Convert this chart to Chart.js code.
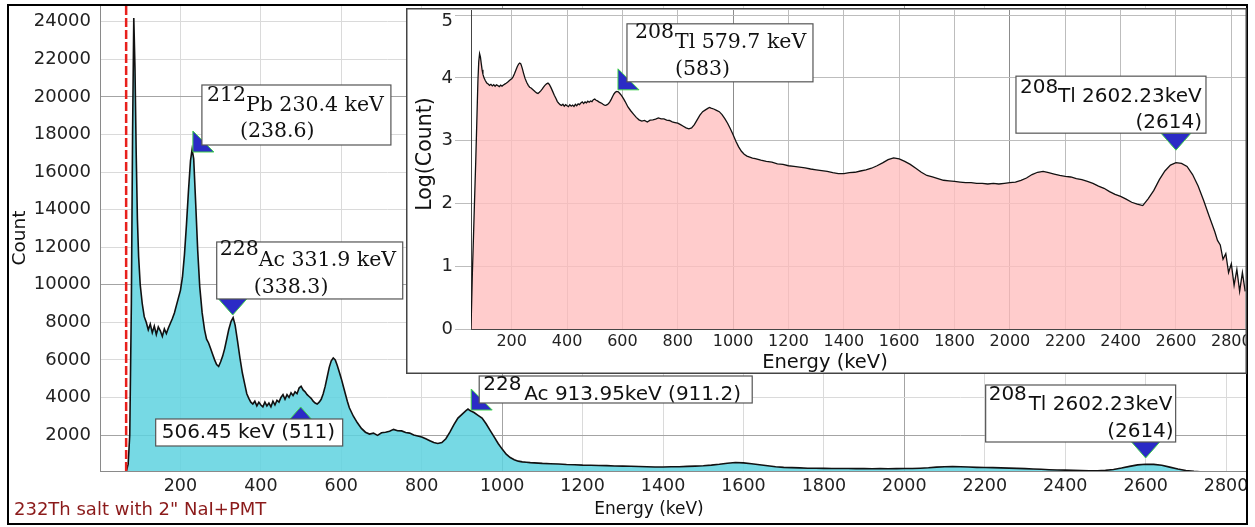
<!DOCTYPE html>
<html>
<head>
<meta charset="utf-8">
<script src="https://cdn.jsdelivr.net/npm/chart.js@4.4.1/dist/chart.umd.min.js"></script>
<style>
body { margin: 0; background: #fff; }
#wrap { position: relative; width: 1255px; height: 527px; }
#main { display: block; }
#inset { position: absolute; left: 406px; top: 8px; display: block; }
</style>
</head>
<body>
<div id="wrap">
  <canvas id="main" width="1255" height="527"></canvas>
  <canvas id="inset" width="841" height="366"></canvas>
</div>
<script>
// spectrum (keV, counts)
const energy = [53,58,62,66,70,74,78,81,84,87,90,93,96,
  100,105,110,115,120,125,130,135,140,145,150,155,160,165,170,175,180,185,190,195,
  200,205,210,215,220,225,229,233,238,243,248,254,260,265,270,275,280,285,290,295,
  300,305,310,315,320,326,331,336,342,348,354,360,365,370,375,380,385,390,395,
  400,405,410,415,420,425,430,435,440,445,450,455,460,465,470,475,480,485,490,495,
  500,505,510,515,520,525,530,535,540,545,550,555,560,565,570,575,580,585,590,595,
  600,605,610,615,620,630,640,650,660,670,680,690,700,710,720,730,740,750,760,770,780,790,
  800,810,820,830,840,850,860,870,880,890,900,910,915,920,930,940,950,960,970,980,990,
  1000,1010,1020,1030,1040,1050,1060,1070,1080,1090,1100,1120,1140,1160,1180,
  1200,1220,1240,1260,1280,1300,1320,1340,1360,1380,1400,1420,1440,1460,1480,
  1500,1520,1540,1560,1580,1600,1620,1640,1660,1680,1700,1720,1740,1760,1780,
  1800,1820,1840,1860,1880,1900,1920,1940,1960,1980,2000,2020,2040,2060,2080,
  2100,2120,2140,2160,2180,2200,2220,2240,2260,2280,2300,2320,2340,2360,2380,
  2400,2420,2440,2460,2480,2500,2520,2540,2560,2580,2600,2620,2640,2660,2680,
  2700,2720,2740,2750,2760,2770,2780,2790,2800,2810,2820,2830,2840,2850];
const counts = [1,8,30,120,450,2000,9000,18000,24200,21500,17000,13500,11500,
  10000,9000,8300,8000,7600,7900,7450,7800,7350,7750,7550,7250,7650,7400,7700,7950,8200,8500,8900,9300,
  9700,10400,11600,13200,15000,16600,17200,16700,14300,11800,9900,8500,7600,7100,6900,6600,6300,6000,5750,5650,
  5900,6200,6600,7100,7600,8050,8250,7850,7000,6100,5300,4700,4200,3950,3750,3650,3800,3550,3750,
  3600,3500,3750,3550,3700,3500,3800,3600,3850,3750,4000,4150,3900,4150,4000,4250,4100,4300,4200,4500,
  4600,4400,4300,4150,4050,3950,3800,3700,3650,3750,3900,4200,4600,5100,5600,5950,6100,6000,5700,5350,
  5000,4600,4200,3800,3450,3000,2650,2350,2150,2050,2100,1980,2120,2150,2200,2300,2230,2220,2130,2100,2000,1950,
  1900,1800,1700,1600,1550,1600,1800,2150,2550,2900,3100,3300,3380,3300,3200,3050,2900,2600,2250,1900,1550,
  1250,980,800,680,610,570,550,530,520,505,490,470,455,430,420,
  400,390,380,370,355,345,335,325,310,300,300,310,315,330,345,
  365,400,445,500,535,515,470,420,365,315,280,265,250,235,230,
  225,220,215,215,210,210,205,210,205,210,215,220,235,255,290,
  315,325,310,295,280,270,265,250,240,225,210,190,175,155,140,
  130,118,105,98,93,120,162,240,330,410,447,437,390,290,190,
  112,63,36,26,22,13,16,8,11,5,9,4,8,4];
const logCounts = counts.map(c => Math.log10(c));

const energyTicks = [200,400,600,800,1000,1200,1400,1600,1800,2000,2200,2400,2600,2800];
const countTicks = [2000,4000,6000,8000,10000,12000,14000,16000,18000,20000,22000,24000];
const logTicks = [0,1,2,3,4,5];
const cutEnergy = 65;

Chart.defaults.font.family = 'DejaVu Sans';
Chart.defaults.color = '#222';

const fonts = { serif: '20.5px "DejaVu Serif"', sans: '20px "DejaVu Sans"' };
const markShapes = {
  corner: [[0,0],[0,-21],[21,0]],
  down: [[0,0],[-15,-17],[15,-17]],
  up: [[0,0],[-15,17],[15,17]]
};

// peak labels, anchored at data coords, offsets in px
const mainNotes = [
  {e:231, v:17065, mark:'corner', font:'serif', box:[9,-67,189,60],
   text:[{t:'212',x:14,y:-56},{t:'Pb 230.4 keV',x:53,y:-46},{t:'(238.6)',x:47,y:-20}]},
  {e:330, v:8390, mark:'down', font:'serif', box:[-16,-73,186,57],
   text:[{t:'228',x:-13,y:-65},{t:'Ac 331.9 keV',x:26,y:-54},{t:'(338.3)',x:21,y:-27}]},
  {e:499, v:3492, mark:'up', font:'sans', box:[-145,12,187,27],
   text:[{t:'506.45 keV (511)',x:-139,y:26}]},
  {e:923, v:3332, mark:'corner', font:'sans', box:[8,-34,273,27],
   text:[{t:'228',x:12,y:-25},{t:'Ac 913.95keV (911.2)',x:53,y:-15}]},
  {e:2600, v:777, mark:'down', font:'sans', box:[-160,-73,190,57],
   text:[{t:'208',x:-157,y:-63},{t:'Tl 2602.23keV',x:-117,y:-53},{t:'(2614)',x:28,y:-26,a:'right'}]}
];
const insetNotes = [
  {e:584, v:3.81, mark:'corner', font:'serif', box:[9,-66,186,58],
   text:[{t:'208',x:17,y:-57},{t:'Tl 579.7 keV',x:57,y:-47},{t:'(583)',x:57,y:-20}]},
  {e:2600, v:2.85, mark:'down', font:'sans', box:[-160,-74,190,57],
   text:[{t:'208',x:-156,y:-62},{t:'Tl 2602.23keV',x:-118,y:-53},{t:'(2614)',x:26,y:-27,a:'right'}]}
];

function drawNotes(chart, notes) {
  const ctx = chart.ctx, xs = chart.scales.x, ys = chart.scales.y;
  notes.forEach(n => {
    const ax = xs.getPixelForValue(n.e), ay = ys.getPixelForValue(n.v);
    ctx.save();
    ctx.beginPath();
    markShapes[n.mark].forEach(([dx, dy], i) => i ? ctx.lineTo(ax + dx, ay + dy) : ctx.moveTo(ax + dx, ay + dy));
    ctx.closePath();
    ctx.fillStyle = '#2b2bc6';
    ctx.fill();
    ctx.strokeStyle = '#3fd24a';
    ctx.lineWidth = 1;
    ctx.stroke();
    const [bx, by, bw, bh] = n.box;
    ctx.fillStyle = '#fff';
    ctx.fillRect(ax + bx, ay + by, bw, bh);
    ctx.strokeStyle = '#555';
    ctx.lineWidth = 1.2;
    ctx.strokeRect(ax + bx, ay + by, bw, bh);
    ctx.fillStyle = '#111';
    ctx.textBaseline = 'middle';
    ctx.font = fonts[n.font];
    n.text.forEach(s => {
      ctx.textAlign = s.a || 'left';
      ctx.fillText(s.t, ax + s.x, ay + s.y);
    });
    ctx.restore();
  });
}

function vText(ctx, text, x, y, font) {
  ctx.save();
  ctx.translate(x, y);
  ctx.rotate(-Math.PI / 2);
  ctx.font = font;
  ctx.textAlign = 'center';
  ctx.textBaseline = 'middle';
  ctx.fillText(text, 0, 0);
  ctx.restore();
}

// keep the chart area where the layout padding puts it
function fixSize(prop, size) {
  return s => {
    s[prop] = size;
    s.paddingTop = 0; s.paddingBottom = 0; s.paddingLeft = 0; s.paddingRight = 0;
  };
}

const whiteBg = {
  id: 'whiteBg',
  beforeDraw(chart) {
    const c = chart.ctx;
    c.save();
    c.fillStyle = '#fff';
    c.fillRect(0, 0, chart.width, chart.height);
    c.restore();
  }
};

const mainDecor = {
  id: 'mainDecor',
  afterDatasetsDraw(chart) {
    const { ctx, chartArea: a } = chart;
    const px = chart.scales.x.getPixelForValue(cutEnergy);
    ctx.save();
    ctx.strokeStyle = '#e8201c';
    ctx.lineWidth = 2.5;
    ctx.setLineDash([9, 3]);
    ctx.beginPath();
    ctx.moveTo(px, a.top);
    ctx.lineTo(px, a.bottom);
    ctx.stroke();
    ctx.restore();
    drawNotes(chart, mainNotes);
  },
  afterDraw(chart) {
    const ctx = chart.ctx;
    ctx.save();
    ctx.fillStyle = '#111';
    vText(ctx, 'Count', 20, 238, '18.5px "DejaVu Sans"');
    ctx.font = '17px "DejaVu Sans"';
    ctx.textAlign = 'center';
    ctx.textBaseline = 'middle';
    ctx.fillText('Energy (keV)', 649, 510);
    ctx.fillStyle = '#8b1a1a';
    ctx.font = '18px "DejaVu Sans"';
    ctx.textAlign = 'left';
    ctx.fillText('232Th salt with 2" NaI+PMT', 14, 510);
    ctx.strokeStyle = '#000';
    ctx.lineWidth = 2;
    ctx.strokeRect(8, 5, 1239, 519);
    ctx.restore();
  }
};

const insetDecor = {
  id: 'insetDecor',
  afterDatasetsDraw(chart) {
    drawNotes(chart, insetNotes);
  },
  afterDraw(chart) {
    const ctx = chart.ctx;
    const top = logTicks[logTicks.length - 1];
    const ys = chart.scales.y;
    ctx.save();
    ctx.fillStyle = '#222';
    // top tick label sits just below its line so it stays inside the box
    ctx.font = '18px "DejaVu Sans"';
    ctx.textAlign = 'right';
    ctx.textBaseline = 'top';
    ctx.fillText(String(top), ys.right - 18, ys.getPixelForValue(top) - 3);
    ctx.fillStyle = '#111';
    vText(ctx, 'Log(Count)', 20, 146, '20.5px "DejaVu Sans"');
    ctx.font = '19.5px "DejaVu Sans"';
    ctx.textAlign = 'center';
    ctx.textBaseline = 'middle';
    ctx.fillText('Energy (keV)', 419, 355);
    ctx.strokeStyle = '#444';
    ctx.lineWidth = 1.5;
    ctx.strokeRect(0.75, 0.75, chart.width - 1.5, chart.height - 1.5);
    ctx.restore();
  }
};

const gridMain = c => (c.tick && [1000, 2000, 10000, 20000].includes(c.tick.value)) ? '#a4a4a4' : '#dadada';
const gridInset = c => (c.tick && [1000, 2000].includes(c.tick.value)) ? '#8c8c8c' : '#bdbdbd';

new Chart(document.getElementById('main'), {
  type: 'line',
  data: {
    datasets: [{
      data: energy.map((e, i) => ({ x: e, y: counts[i] })),
      borderColor: '#111',
      borderWidth: 1.6,
      backgroundColor: 'rgba(94,210,223,0.85)',
      fill: 'origin',
      pointRadius: 0,
      tension: 0
    }]
  },
  options: {
    responsive: false,
    animation: false,
    events: [],
    layout: { padding: { left: 8, right: 8, top: 6, bottom: 0 } },
    plugins: { legend: { display: false }, tooltip: { enabled: false } },
    scales: {
      x: {
        type: 'linear', min: 0, max: 2852,
        afterFit: fixSize('height', 56),
        afterBuildTicks: s => { s.ticks = energyTicks.map(v => ({ value: v })); },
        grid: { color: gridMain, drawTicks: false },
        border: { color: '#8a8a8a' },
        ticks: { font: { size: 17.5 }, padding: 5, maxRotation: 0, autoSkip: false, callback: v => String(v) }
      },
      y: {
        type: 'linear', min: 85, max: 24836,
        afterFit: fixSize('width', 92),
        afterBuildTicks: s => { s.ticks = countTicks.map(v => ({ value: v })); },
        grid: { color: gridMain, drawTicks: false },
        border: { color: '#8a8a8a' },
        ticks: { font: { size: 18 }, padding: 9, autoSkip: false, callback: v => String(v) }
      }
    }
  },
  plugins: [whiteBg, mainDecor]
});

new Chart(document.getElementById('inset'), {
  type: 'line',
  data: {
    datasets: [{
      data: energy.map((e, i) => ({ x: e, y: logCounts[i] })),
      borderColor: '#111',
      borderWidth: 1.3,
      backgroundColor: 'rgba(255,191,191,0.8)',
      fill: 'origin',
      pointRadius: 0,
      tension: 0
    }]
  },
  options: {
    responsive: false,
    animation: false,
    events: [],
    layout: { padding: { left: 0, right: 1, top: 2, bottom: 0 } },
    plugins: { legend: { display: false }, tooltip: { enabled: false } },
    scales: {
      x: {
        type: 'linear', min: 53, max: 2853,
        afterFit: fixSize('height', 44.7),
        afterBuildTicks: s => { s.ticks = energyTicks.map(v => ({ value: v })); },
        grid: { color: gridInset, drawTicks: false },
        border: { color: '#444' },
        ticks: { font: { size: 16 }, padding: 3, maxRotation: 0, autoSkip: false, callback: v => String(v) }
      },
      y: {
        type: 'linear', min: 0, max: 5.08,
        afterFit: fixSize('width', 65),
        afterBuildTicks: s => { s.ticks = logTicks.map(v => ({ value: v })); },
        grid: { color: gridInset, tickLength: 16 },
        border: { color: '#444' },
        ticks: { font: { size: 18 }, padding: 2, autoSkip: false,
          callback: v => v === logTicks[logTicks.length - 1] ? '' : String(v) }
      }
    }
  },
  plugins: [whiteBg, insetDecor]
});
</script>
</body>
</html>
